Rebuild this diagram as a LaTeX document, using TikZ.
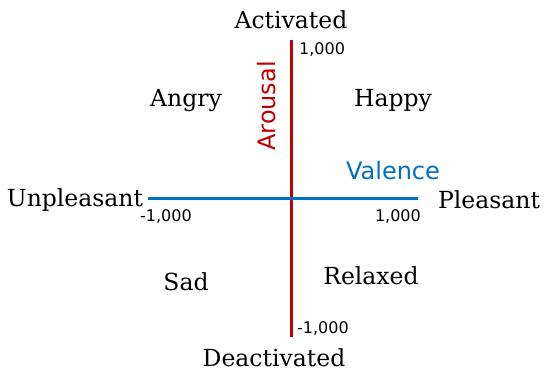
\documentclass[tikz,border=0pt]{standalone}
\usepackage{fontspec}
\setmainfont{DejaVu Serif}
\newfontfamily\axfont{DejaVu Sans}
\definecolor{axred}{HTML}{C00000}
\definecolor{axblue}{HTML}{0070C0}
\begin{document}
\begin{tikzpicture}[x=1pt,y=-1pt,
  lab/.style={inner sep=0pt,font=\fontsize{23.5}{25}\selectfont},
  num/.style={inner sep=0pt,font=\axfont\fontsize{16}{17}\selectfont},
  axname/.style={inner sep=0pt,font=\axfont\fontsize{24}{26}\selectfont}]
\fill[white] (0,0) rectangle (554,371);
\useasboundingbox (0,0) rectangle (554,371);
\coordinate (atop) at (291,40);
\coordinate (abot) at (291,337);
\coordinate (vl) at (148,199);
\coordinate (vr) at (418,199);
\draw[axred,line width=3pt] (atop) -- (abot);
\draw[axblue,line width=3pt] (vl) -- (vr);
\node[lab] (act) at (291,20) {Activated};
\node[lab] (deact) at (274,358) {Deactivated};
\node[lab] (unp) at (75,200) {Unpleasant};
\node[lab] (ple) at (489,200) {Pleasant};
\node[lab] (angry) at (186,101) {Angry};
\node[lab] (happy) at (393,101) {Happy};
\node[lab] (sad) at (186,282) {Sad};
\node[lab] (relaxed) at (371,276) {Relaxed};
\node[num,anchor=west] (ntop) at (299,49) {1,000};
\node[num,anchor=east] (nright) at (421,216) {1,000};
\node[num,anchor=west] (nleft) at (140,216) {-1,000};
\node[num,anchor=west] (nbot) at (297,328) {-1,000};
\node[axname,text=axred,rotate=90] (arousal) at (267,106) {Arousal};
\node[axname,text=axblue] (valence) at (393,171) {Valence};
\end{tikzpicture}
\end{document}
